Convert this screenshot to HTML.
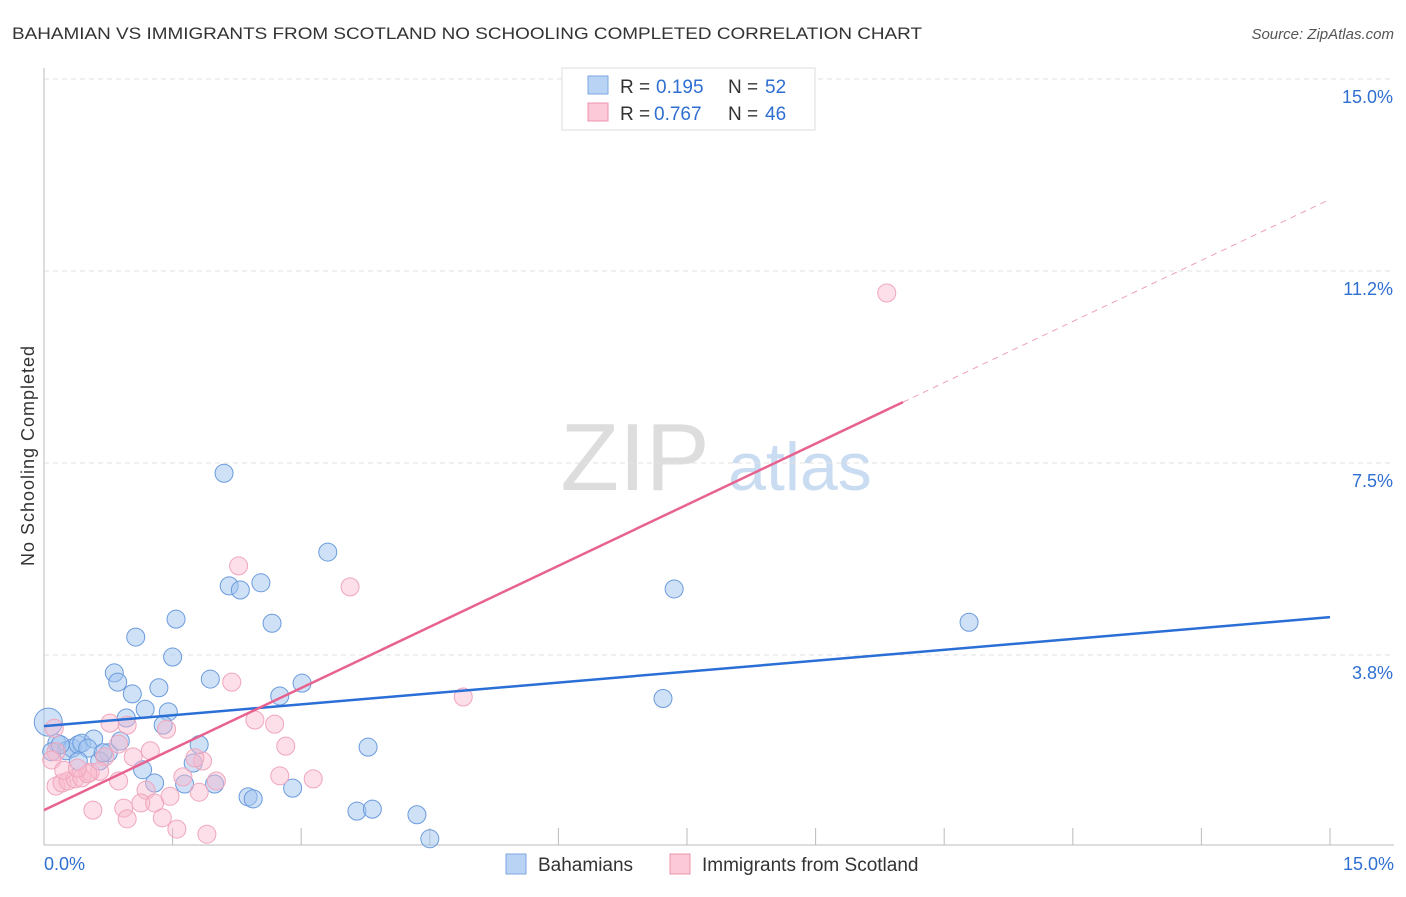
<!DOCTYPE html>
<html><head><meta charset="utf-8"><style>
body{margin:0;background:#fff;font-family:"Liberation Sans",sans-serif;}
svg text{font-family:"Liberation Sans",sans-serif;}
</style></head><body>
<svg width="1406" height="892" id="c">
<text x="12" y="39" font-size="17" fill="#333" textLength="910" lengthAdjust="spacingAndGlyphs">BAHAMIAN VS IMMIGRANTS FROM SCOTLAND NO SCHOOLING COMPLETED CORRELATION CHART</text>
<text x="1394" y="39" font-size="15" fill="#555" text-anchor="end" font-style="italic">Source: ZipAtlas.com</text>
<text x="34" y="456" font-size="18" fill="#333" text-anchor="middle" textLength="220" transform="rotate(-90 34 456)">No Schooling Completed</text>
<text x="635" y="490" font-size="96" fill="#ddd" text-anchor="middle" font-family="Liberation Serif">ZIP</text>
<text x="800" y="490" font-size="68" fill="#c9dcf2" text-anchor="middle">atlas</text>
<g id="grid"></g><g id="pts"></g><g id="lines"></g>
<g>
<rect x="562" y="68" width="253" height="62" fill="#fff" stroke="#ddd"/>
<rect x="588" y="76" width="20" height="18" fill="#b9d3f4" stroke="#7aa7e3"/>
<text x="620" y="93" font-size="19" fill="#333">R =</text><text x="656" y="93" font-size="19" fill="#2f6fd1">0.195</text>
<text x="728" y="93" font-size="19" fill="#333">N =</text><text x="765" y="93" font-size="19" fill="#2f6fd1">52</text>
<rect x="588" y="103" width="20" height="18" fill="#fbc9d7" stroke="#eb93ad"/>
<text x="620" y="120" font-size="19" fill="#333">R =</text><text x="654" y="120" font-size="19" fill="#2f6fd1">0.767</text>
<text x="728" y="120" font-size="19" fill="#333">N =</text><text x="765" y="120" font-size="19" fill="#2f6fd1">46</text>
</g>
<g>
<rect x="506" y="854" width="20" height="20" fill="#b9d3f4" stroke="#7aa7e3"/>
<text x="538" y="871" font-size="19" fill="#333">Bahamians</text>
<rect x="670" y="854" width="20" height="20" fill="#fbc9d7" stroke="#eb93ad"/>
<text x="702" y="871" font-size="19" fill="#333">Immigrants from Scotland</text>
</g>
</svg>
<script>
const yTicks=[3.75,7.5,11.25,15];
const yTickLabels=["3.8%","7.5%","11.2%","15.0%"];
const blueX=[0.05,2.1,3.31,2.16,2.29,2.53,7.35,10.79,1.54,1.07,2.66,1.5,0.82,0.86,1.94,1.03,1.34,3.01,2.75,7.22,1.18,1.45,0.96,1.39,0.15,0.26,0.33,0.40,0.44,0.58,0.75,0.89,1.81,1.74,0.65,1.15,3.78,1.64,1.99,1.29,2.9,2.38,2.44,3.65,3.83,4.35,4.5,0.09,0.19,0.51,0.69,0.4];
const blueY=[2.44,7.3,5.76,5.1,5.02,5.16,5.04,4.39,4.45,4.1,4.37,3.71,3.4,3.22,3.28,2.99,3.11,3.2,2.95,2.9,2.69,2.64,2.52,2.38,2.03,1.88,1.93,2.0,2.03,2.11,1.84,2.07,2.0,1.64,1.68,1.51,1.95,1.23,1.23,1.25,1.15,0.98,0.94,0.70,0.74,0.63,0.16,1.86,2.0,1.93,1.84,1.68];
const pinkX=[9.83,2.27,3.57,2.19,4.89,0.12,0.14,2.46,2.69,0.97,0.77,1.43,1.24,0.87,0.71,1.04,1.85,1.76,2.82,0.14,0.21,0.28,0.36,0.44,0.54,0.65,0.87,1.62,2.01,2.75,3.14,1.19,1.47,1.81,0.57,0.93,1.13,1.29,0.97,1.38,1.55,1.9,0.09,0.23,0.51,0.39];
const pinkY=[10.82,5.49,5.08,3.22,2.93,2.32,1.86,2.48,2.4,2.38,2.42,2.3,1.88,2.01,1.76,1.76,1.68,1.74,1.97,1.19,1.25,1.29,1.33,1.35,1.46,1.48,1.29,1.37,1.29,1.39,1.33,1.11,0.99,1.07,0.72,0.76,0.86,0.86,0.55,0.57,0.35,0.25,1.7,1.5,1.43,1.54];
const blueLine=[2.36,4.49];
const pinkLine=[0.72,12.65];const pinkSolidEnd=10.02;
const X=v=>44+v/15*1286, Y=v=>847-v*51.2;
const NS="http://www.w3.org/2000/svg";
function mk(t,a,p){const e=document.createElementNS(NS,t);for(const k in a)e.setAttribute(k,a[k]);p.appendChild(e);return e;}
const g=document.getElementById('grid');
yTicks.forEach((v,i)=>{
 const l=mk('line',{x1:44,x2:1394,y1:Y(v),y2:Y(v),stroke:'#e2e2e2','stroke-dasharray':'5,4'},g);
 
 
 const t=mk('text',{x:1393,y:Y(v)+24,'font-size':18,fill:'#2f6fd1','text-anchor':'end'},g);t.textContent=yTickLabels[i];
 
 
});
mk('line',{x1:44,x2:44,y1:68,y2:845,stroke:'#bbb'},g);
mk('line',{x1:44,x2:1394,y1:845,y2:845,stroke:'#bbb'},g);
for(let i=1;i<=10;i++){const x=44+i*128.6;mk('line',{x1:x,x2:x,y1:828,y2:845,stroke:'#bbb'},g);}
let t=mk('text',{x:44,y:870,'font-size':18,fill:'#2f6fd1'},g);t.textContent='0.0%';

t=mk('text',{x:1394,y:870,'font-size':18,fill:'#2f6fd1','text-anchor':'end'},g);t.textContent='15.0%';

const p=document.getElementById('pts');
blueX.forEach((v,i)=>{const c=mk('circle',{cx:X(v),cy:Y(blueY[i]),r:i==0?14:9,fill:'rgba(160,195,240,0.5)',stroke:'#6b9bdc','stroke-width':1},p);
 
 });
pinkX.forEach((v,i)=>{const c=mk('circle',{cx:X(v),cy:Y(pinkY[i]),r:9,fill:'rgba(248,185,205,0.45)',stroke:'#f0a6bd','stroke-width':1},p);
 
 });
const L=document.getElementById('lines');
let e=mk('line',{x1:X(0),y1:Y(blueLine[0]),x2:X(15),y2:Y(blueLine[1]),stroke:'#2a6fd6','stroke-width':2.5},L);

const pf=v=>pinkLine[0]+(pinkLine[1]-pinkLine[0])*v/15;
e=mk('line',{x1:X(0),y1:Y(pf(0)),x2:X(pinkSolidEnd),y2:Y(pf(pinkSolidEnd)),stroke:'#e8628f','stroke-width':2.5},L);

e=mk('line',{x1:X(pinkSolidEnd),y1:Y(pf(pinkSolidEnd)),x2:X(15),y2:Y(pf(15)),stroke:'#eea0b8','stroke-width':1,'stroke-dasharray':'6,5'},L);

</script>
</body></html>
